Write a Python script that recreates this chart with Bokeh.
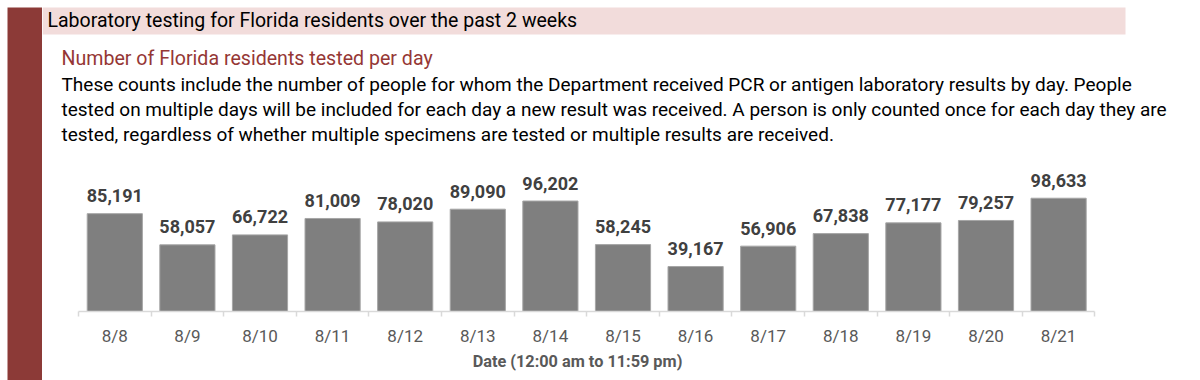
from bokeh.plotting import figure
from bokeh.layouts import row, column
from bokeh.models import Range1d, FixedTicker, Label, BoxAnnotation, ColumnDataSource
from bokeh.embed import file_html
from bokeh.resources import INLINE
from bokeh.core.properties import value
from bokeh.core.validation import silence
from bokeh.core.validation.warnings import MISSING_RENDERERS

silence(MISSING_RENDERERS, True)

# ---------------- data ----------------
dates = ["8/8", "8/9", "8/10", "8/11", "8/12", "8/13", "8/14",
         "8/15", "8/16", "8/17", "8/18", "8/19", "8/20", "8/21"]
tested = [85191, 58057, 66722, 81009, 78020, 89090, 96202,
          58245, 39167, 56906, 67838, 77177, 79257, 98633]

header_text = "Laboratory testing for Florida residents over the past 2 weeks"
subtitle_text = "Number of Florida residents tested per day"
body_lines = [
    "These counts include the number of people for whom the Department received PCR or antigen laboratory results by day. People",
    "tested on multiple days will be included for each day a new result was received. A person is only counted once for each day they are",
    "tested, regardless of whether multiple specimens are tested or multiple results are received.",
]
axis_title = "Date (12:00 am to 11:59 pm)"

# ---------------- styling / layout constants ----------------
FONT = "Roboto"
RED = "#8C3A37"
PINK = "#F2DCDB"
TOTAL_W, TOTAL_H = 1184, 380
SIDE_W = 42             # red side bar figure width (incl. 7px white gutter)
MAIN_W = TOTAL_W - SIDE_W
TEXT_H = 160            # heading/text figure height (page px 0..160)
AXIS_Y = 312            # page y of the category axis line
TICK_PANEL = 36         # space below axis for tick labels
TITLE_TOP = AXIS_Y + TICK_PANEL
TITLE_H = TOTAL_H - TITLE_TOP
FRAME_H = AXIS_Y - TEXT_H
CHART_H = FRAME_H + TICK_PANEL
CAT_PX = 72.6           # px per category
FIRST_CENTER = 114.3    # page px of first category centre
PX_PER_UNIT = 0.001156


def bare(fig):
    fig.outline_line_color = None
    fig.grid.visible = False
    fig.background_fill_color = "white"
    fig.border_fill_color = "white"
    return fig


# ---------------- red side bar ----------------
side = figure(width=SIDE_W, height=TOTAL_H, output_backend="svg", toolbar_location=None,
              x_axis_location=None, y_axis_location=None,
              min_border_left=7, min_border_top=7, min_border_right=0, min_border_bottom=0)
bare(side)
side.background_fill_color = RED

# ---------------- heading / text block ----------------
txt = bare(figure(width=MAIN_W, height=TEXT_H, output_backend="svg", toolbar_location=None,
                  x_range=Range1d(SIDE_W, TOTAL_W), y_range=Range1d(TEXT_H, 0),
                  x_axis_location=None, y_axis_location=None,
                  min_border_left=0, min_border_top=0, min_border_right=0, min_border_bottom=0))

txt.add_layout(BoxAnnotation(left=SIDE_W, right=1125, top=7, bottom=34,
                             fill_color=PINK, fill_alpha=1.0, line_alpha=0))
txt.add_layout(Label(x=47, y=20, text=header_text, text_font=FONT,
                     text_font_size="19.5px", text_color="#000000",
                     text_baseline="alphabetic"))
txt.add_layout(Label(x=61, y=58, text=subtitle_text, text_font=FONT,
                     text_font_size="19.6px", text_color="#953735",
                     text_baseline="alphabetic"))
for i, line in enumerate(body_lines):
    txt.add_layout(Label(x=61, y=84 + 25 * i, text=line, text_font=FONT,
                         text_font_size="19px", text_color="#000000",
                         text_baseline="alphabetic"))

# ---------------- bar chart ----------------
idx = list(range(len(dates)))
src = ColumnDataSource(dict(x=idx, top=tested, label=[f"{v:,}" for v in tested]))

x_start = (SIDE_W - FIRST_CENTER) / CAT_PX
x_end = (TOTAL_W - FIRST_CENTER) / CAT_PX
y_max = FRAME_H / PX_PER_UNIT

p = bare(figure(width=MAIN_W, height=CHART_H, output_backend="svg", toolbar_location=None,
                x_range=Range1d(x_start, x_end), y_range=Range1d(0, y_max),
                y_axis_location=None,
                min_border_left=0, min_border_right=0,
                min_border_top=0, min_border_bottom=TICK_PANEL))

p.vbar(x="x", top="top", width=0.76, source=src,
       fill_color="#7F7F7F", line_color="#A6A6A6", line_width=1)
p.text(x="x", y="top", text="label", source=src, text_align="center",
       text_baseline="alphabetic", y_offset=-18,
       text_font=value(FONT), text_font_style="bold",
       text_font_size="18px", text_color="#404040")

ax = p.xaxis[0]
ax.ticker = FixedTicker(ticks=idx, minor_ticks=[i - 0.5 for i in range(len(dates) + 1)])
ax.major_label_overrides = {i: d for i, d in enumerate(dates)}
ax.bounds = (-0.5, len(dates) - 0.5)
ax.axis_line_color = "#D9D9D9"
ax.axis_line_width = 1.5
ax.major_tick_line_color = None
ax.major_tick_out = 0
ax.major_tick_in = 0
ax.minor_tick_line_color = "#D9D9D9"
ax.minor_tick_line_width = 1.5
ax.minor_tick_out = 5
ax.minor_tick_in = 0
ax.major_label_standoff = 9
ax.major_label_text_font = FONT
ax.major_label_text_font_size = "17px"
ax.major_label_text_color = "#595959"

# ---------------- axis title strip ----------------
ttl = bare(figure(width=MAIN_W, height=TITLE_H, output_backend="svg", toolbar_location=None,
                  x_range=Range1d(SIDE_W, TOTAL_W), y_range=Range1d(TOTAL_H, TITLE_TOP),
                  x_axis_location=None, y_axis_location=None,
                  min_border_left=0, min_border_top=0, min_border_right=0, min_border_bottom=0))
ttl.add_layout(Label(x=577, y=360.5, text=axis_title, text_font=FONT,
                     text_font_size="16.3px", text_font_style="bold",
                     text_color="#595959", text_align="center",
                     text_baseline="alphabetic"))

layout = row(side, column(txt, p, ttl, spacing=0), spacing=0)

open("out.html", "w").write(file_html(layout, INLINE))
